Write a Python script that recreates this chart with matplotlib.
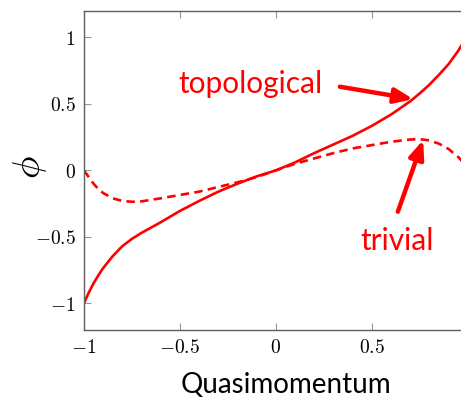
import matplotlib
matplotlib.use("Agg")
import matplotlib.pyplot as plt

# values
quasi = [-1.0, -0.975, -0.95, -0.925, -0.9, -0.85, -0.8, -0.75, -0.7, -0.6,
         -0.5, -0.4, -0.3, -0.2, -0.1, 0.0, 0.1, 0.2, 0.3, 0.4,
         0.5, 0.6, 0.7, 0.75, 0.8, 0.85, 0.9, 0.925, 0.95, 0.975]
phi_topo = [-1.0, -0.92, -0.85, -0.79, -0.735, -0.645, -0.57, -0.515, -0.47, -0.39,
            -0.305, -0.23, -0.16, -0.10, -0.045, 0.0, 0.06, 0.13, 0.195, 0.26,
            0.335, 0.42, 0.52, 0.58, 0.645, 0.72, 0.80, 0.85, 0.90, 0.96]
phi_triv = [0.0, -0.05, -0.10, -0.14, -0.17, -0.21, -0.23, -0.236, -0.233, -0.21,
            -0.185, -0.16, -0.125, -0.09, -0.05, 0.0, 0.05, 0.09, 0.13, 0.165,
            0.19, 0.215, 0.232, 0.235, 0.225, 0.20, 0.16, 0.13, 0.10, 0.06]

xticks = [-1, -0.5, 0, 0.5]
yticks = [-1, -0.5, 0, 0.5, 1]
xtick_labels = [r"$-1$", r"$-0.5$", r"$0$", r"$0.5$"]
ytick_labels = [r"$-1$", r"$-0.5$", r"$0$", r"$0.5$", r"$1$"]

plt.rcParams["mathtext.fontset"] = "cm"
red = "#ff0000"

fig = plt.figure(figsize=(4.61, 3.99), dpi=100)
# axes run a little past the right edge, as in the reference
ax = fig.add_axes([0.182, 0.173, 0.833, 0.800])

ax.plot(quasi, phi_topo, color=red, lw=1.9, solid_capstyle="butt")
ax.plot(quasi, phi_triv, color=red, lw=1.9, dashes=(3.2, 2.0))

ax.set_xlim(-1, 1)
ax.set_ylim(-1.2, 1.2)
ax.set_xticks(xticks)
ax.set_xticklabels(xtick_labels)
ax.set_yticks(yticks)
ax.set_yticklabels(ytick_labels)
ax.tick_params(direction="in", top=True, right=True, length=5, width=0.8,
               color="#999999", labelsize=14, pad=6)
for s in ax.spines.values():
    s.set_color("#606060")
    s.set_linewidth(1.0)

# annotations
ax.text(-0.51, 0.58, "topological", color=red, fontsize=21.5, family="Lato")
ax.annotate("", xy=(0.715, 0.536), xytext=(0.333, 0.629),
            arrowprops=dict(arrowstyle="-|>,head_length=1.1,head_width=0.45",
                            color=red, lw=3.2, shrinkA=0, shrinkB=0))
ax.text(0.4375, -0.60, "trivial", color=red, fontsize=21.5, family="Lato")
ax.annotate("", xy=(0.767, 0.228), xytext=(0.635, -0.311),
            arrowprops=dict(arrowstyle="-|>,head_length=1.1,head_width=0.45",
                            color=red, lw=3.2, shrinkA=0, shrinkB=0))

fig.text(0.62, 0.015, "Quasimomentum", ha="center", va="baseline",
         fontsize=20, family="Lato")
fig.text(0.065, 0.58, r"$\phi$", ha="center", va="center", rotation=90,
         fontsize=27)

fig.savefig("out.png", dpi=100)
